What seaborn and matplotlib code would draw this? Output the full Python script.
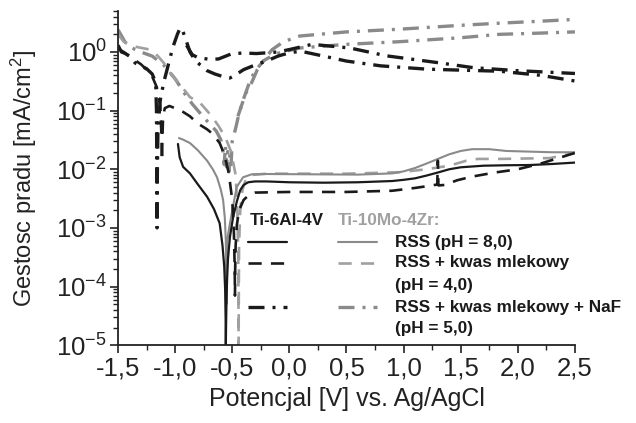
import numpy as np
import seaborn as sns
import matplotlib.pyplot as plt
from matplotlib.lines import Line2D
from matplotlib.ticker import MultipleLocator, FixedLocator, FuncFormatter, LogLocator, NullFormatter

# Ti-6Al-4V, RSS (pH 8,0) - black solid
bs_x = [-0.975, -0.96, -0.93, -0.87, -0.80, -0.72, -0.66, -0.61, -0.585, -0.57, -0.562, -0.558, -0.556,
        -0.554, -0.55, -0.545, -0.537, -0.52, -0.493, -0.46, -0.43, -0.40, -0.36, -0.3, -0.2, 0.0, 0.3, 0.6,
        0.9, 1.0, 1.1, 1.2, 1.3, 1.4, 1.5, 1.7, 1.9, 2.1, 2.3, 2.5]
bs_y = [0.027, 0.016, 0.011, 0.0085, 0.0055, 0.0034, 0.0021, 0.0012, 5e-4, 2.2e-4, 9e-5, 3e-5, 1e-5,
        2e-5, 6e-5, 1.3e-4, 3e-4, 7e-4, 1.5e-3, 2.8e-3, 4.4e-3, 5.4e-3, 6.0e-3, 6.2e-3, 6.2e-3, 6.0e-3,
        5.9e-3, 6.0e-3, 6.3e-3, 6.6e-3, 7.0e-3, 7.8e-3, 8.8e-3, 1.0e-2, 1.08e-2, 1.15e-2, 1.17e-2, 1.18e-2,
        1.23e-2, 1.3e-2]

# Ti-10Mo-4Zr, RSS (pH 8,0) - grey solid
gs_x = [-0.966, -0.93, -0.87, -0.80, -0.72, -0.67, -0.633, -0.60, -0.58, -0.565, -0.556, -0.552, -0.55,
        -0.548, -0.543, -0.535, -0.52, -0.49, -0.46, -0.405, -0.33, -0.2, 0.2, 0.6, 0.9, 1.0, 1.1, 1.2,
        1.3, 1.4, 1.5, 1.6, 1.75, 1.9, 2.1, 2.3, 2.5]
gs_y = [0.034, 0.032, 0.028, 0.021, 0.014, 0.01, 0.0073, 0.0045, 0.003, 0.0015, 6e-4, 2e-4, 5e-5,
        2e-4, 6e-4, 8e-4, 1.2e-3, 2.5e-3, 5e-3, 7.3e-3, 8.2e-3, 8.3e-3, 8.2e-3, 8.1e-3, 8.5e-3, 9.2e-3,
        1.05e-2, 1.25e-2, 1.5e-2, 1.8e-2, 2.05e-2, 2.2e-2, 2.2e-2, 2.05e-2, 2.0e-2, 1.95e-2, 1.95e-2]

# Ti-6Al-4V, RSS + kwas mlekowy (pH 4,0) - black dashed
bd_x = [-1.5, -1.45, -1.4, -1.35, -1.3, -1.25, -1.2, -1.16, -1.13, -1.12, -1.115, -1.11, -1.105, -1.09,
        -1.05, -1.0, -0.93, -0.87, -0.8, -0.72, -0.67, -0.61, -0.57, -0.53, -0.50, -0.485, -0.478, -0.476,
        -0.474, -0.47, -0.46, -0.44, -0.40, -0.35, -0.3, 0.0, 0.5, 0.9, 1.1, 1.25, 1.295, 1.30, 1.305,
        1.36, 1.47, 1.6, 1.8, 2.0, 2.2, 2.4, 2.5]
bd_y = [1.15, 1.0, 0.85, 0.72, 0.62, 0.5, 0.38, 0.25, 0.12, 0.04, 0.014, 0.04, 0.08, 0.11,
        0.12, 0.11, 0.095, 0.08, 0.06, 0.048, 0.04, 0.028, 0.018, 0.0086, 0.003, 8e-4, 2e-4, 7e-5,
        2e-4, 5e-4, 1.1e-3, 2.0e-3, 3.0e-3, 3.7e-3, 4.0e-3, 4.1e-3, 4.1e-3, 4.3e-3, 4.8e-3, 5.3e-3,
        5.5e-3, 1.4e-2, 5.3e-3, 5.4e-3, 6.5e-3, 7.5e-3, 8.8e-3, 1.0e-2, 1.25e-2, 1.65e-2, 1.9e-2]

# Ti-10Mo-4Zr, RSS + kwas mlekowy (pH 4,0) - grey dashed
gd_x = [-1.5, -1.45, -1.4, -1.32, -1.22, -1.15, -1.09, -1.03, -0.97, -0.87, -0.78, -0.69, -0.62, -0.56,
        -0.51, -0.47, -0.455, -0.447, -0.444, -0.442, -0.44, -0.43, -0.41, -0.38, -0.33, -0.2, 0.5,
        0.97, 1.2, 1.4, 1.55, 1.65, 1.84, 2.28, 2.5]
gd_y = [2.0, 1.5, 1.3, 1.2, 1.1, 0.85, 0.62, 0.4, 0.3, 0.17, 0.135, 0.085, 0.055, 0.035,
        0.02, 0.008, 0.002, 3e-4, 1e-5, 1e-4, 5e-4, 2e-3, 4.5e-3, 6.8e-3, 8e-3, 8.4e-3, 8.4e-3,
        8.9e-3, 1.0e-2, 1.15e-2, 1.4e-2, 1.5e-2, 1.5e-2, 1.55e-2, 1.9e-2]

# Ti-6Al-4V, RSS + kwas mlekowy + NaF (pH 5,0) - black dash-dot (two scans)
bdd_x = [-1.5, -1.47, -1.44, -1.4, -1.35, -1.3, -1.25, -1.2, -1.17, -1.163, -1.16, -1.158, -1.155, -1.15,
         -1.13, -1.1, -1.06, -1.02, -0.98, -0.955, -0.93, -0.9, -0.87, -0.83, -0.78, -0.72, -0.65, -0.58,
         -0.52, -0.46, -0.4, -0.3, -0.2, -0.1, 0.0, 0.1, 0.3, 0.5, 0.8, 1.2, 1.5, 1.84, 2.2, 2.5]
bdd_y = [1.3, 1.0, 0.95, 0.85, 0.65, 0.58, 0.52, 0.42, 0.3, 0.1, 0.01, 1e-3, 0.01, 0.05,
         0.15, 0.3, 0.6, 1.2, 2.0, 2.6, 2.2, 1.5, 1.0, 0.75, 0.6, 0.48, 0.42, 0.38,
         0.36, 0.42, 0.5, 0.6, 0.7, 0.85, 0.97, 1.03, 0.85, 0.7, 0.58, 0.51, 0.49, 0.47, 0.4, 0.32]
bdd2_x = [-0.9, -0.85, -0.8, -0.7, -0.62, -0.5, -0.39, -0.29, -0.1, 0.0, 0.2, 0.53, 0.85, 1.32, 1.61, 2.0, 2.5]
bdd2_y = [1.3, 0.9, 0.8, 0.75, 0.76, 0.94, 0.96, 0.94, 1.0, 1.1, 1.35, 1.17, 0.86, 0.65, 0.54, 0.48, 0.43]

# Ti-10Mo-4Zr, RSS + kwas mlekowy + NaF (pH 5,0) - grey dash-dot (two scans)
gdd_x = [-1.5, -1.47, -1.44, -1.4, -1.35, -1.3, -1.2, -1.1, -1.0, -0.92, -0.85, -0.78, -0.7, -0.64, -0.6,
         -0.58, -0.57, -0.56, -0.55, -0.54, -0.53, -0.52, -0.51, -0.5, -0.47, -0.44, -0.40, -0.35, -0.3,
         -0.22, -0.12, 0.09, 0.5, 0.97, 1.5, 1.84, 2.2, 2.5]
gdd_y = [2.4, 1.9, 1.5, 1.25, 1.1, 1.0, 0.85, 0.6, 0.35, 0.2, 0.13, 0.09, 0.06, 0.045, 0.032,
         0.02, 0.012, 0.025, 0.011, 0.02, 0.009, 0.018, 0.012, 0.03, 0.05, 0.09, 0.16, 0.3, 0.48,
         0.72, 0.93, 1.17, 1.35, 1.5, 1.75, 2.0, 2.1, 2.2]
gdd2_x = [-0.45, -0.42, -0.38, -0.33, -0.28, -0.22, -0.15, -0.05, 0.09, 0.5, 0.97, 1.5, 1.84, 2.2, 2.5]
gdd2_y = [0.08, 0.12, 0.2, 0.3, 0.5, 0.75, 1.1, 1.5, 1.87, 2.2, 2.45, 2.85, 3.1, 3.35, 3.6]

x_ticks = [-1.5, -1.0, -0.5, 0.0, 0.5, 1.0, 1.5, 2.0, 2.5]
y_ticks = [1e-5, 1e-4, 1e-3, 1e-2, 1e-1, 1e0]

black = "#1a1a1a"
grey = "#8a8a8a"
grey_light = "#a0a0a0"
dash = (0, (5, 3.5))
dashdot = (0, (4.8, 2.4, 0.9, 2.4))

sns.set_style("ticks")
plt.rcParams['font.family'] = ['Liberation Sans', 'DejaVu Sans']
plt.rcParams['mathtext.fontset'] = 'custom'
plt.rcParams['mathtext.rm'] = 'Liberation Sans'
plt.rcParams['mathtext.it'] = 'Liberation Sans:italic'

fig = plt.figure(figsize=(6.36, 4.23), dpi=100)
ax = fig.add_axes([0.1855, 0.184, 0.7185, 0.790])

series = [
    (gdd_x, gdd_y, grey, 2.4, dashdot),
    (gdd2_x, gdd2_y, grey, 2.4, dashdot),
    (gd_x, gd_y, grey_light, 1.9, dash),
    (gs_x, gs_y, grey, 1.5, "-"),
    (bdd_x, bdd_y, black, 2.4, dashdot),
    (bdd2_x, bdd2_y, black, 2.4, dashdot),
    (bd_x, bd_y, black, 1.9, dash),
    (bs_x, bs_y, black, 1.6, "-"),
]
for xs, ys, col, lw, ls in series:
    sns.lineplot(x=xs, y=ys, sort=False, estimator=None, ax=ax, color=col, lw=lw, linestyle=ls)

ax.set_yscale("log")
ax.set_xlim(-1.5, 2.5)
ax.set_ylim(1e-5, 5)
ax.xaxis.set_major_locator(FixedLocator(x_ticks))
ax.xaxis.set_minor_locator(MultipleLocator(0.25))
ax.xaxis.set_major_formatter(FuncFormatter(lambda v, p: f"{v:.1f}".replace(".", ",")))
ax.yaxis.set_major_locator(FixedLocator(y_ticks))
ax.yaxis.set_minor_locator(LogLocator(base=10, subs=np.arange(2, 10)))
ax.yaxis.set_minor_formatter(NullFormatter())
ax.yaxis.set_major_formatter(FuncFormatter(lambda v, p: r"$10^{%d}$" % round(np.log10(v))))

for side in ["top", "right"]:
    ax.spines[side].set_visible(False)
for side in ["left", "bottom"]:
    ax.spines[side].set_linewidth(1.3)
    ax.spines[side].set_color("#222222")
ax.tick_params(which="major", direction="out", length=6, width=1.2, labelsize=18.5, colors="#222222", pad=2)
ax.tick_params(which="minor", direction="out", length=3.5, width=1.0, colors="#222222")

ax.set_xlabel("Potencjal [V] vs. Ag/AgCl", fontsize=18, labelpad=5, color="#222222")
ax.set_ylabel("Gestosc pradu [mA/cm$^2$]", fontsize=17, labelpad=12, color="#222222")

# custom legend block
tr = ax.transAxes
ax.text(0.289, 0.374, "Ti-6Al-4V", transform=tr, fontsize=12.3, fontweight="bold", color=black, va="center")
ax.text(0.481, 0.374, "Ti-10Mo-4Zr:", transform=tr, fontsize=12.3, fontweight="bold", color=grey_light, va="center")
rows = [(0.308, "-", "-", 1.6, 1.5),
        (0.246, dash, dash, 1.9, 1.9),
        (0.114, dashdot, dashdot, 2.4, 2.4)]
for yy, ls_b, ls_g, lw_b, lw_g in rows:
    ax.add_line(Line2D([0.284, 0.370], [yy, yy], transform=tr, color=black, lw=lw_b, linestyle=ls_b, clip_on=False))
    ax.add_line(Line2D([0.481, 0.567], [yy, yy], transform=tr, color=grey_light if ls_g == dash else grey,
                       lw=lw_g, linestyle=ls_g, clip_on=False))
labels = [(0.308, "RSS (pH = 8,0)"), (0.246, "RSS + kwas mlekowy"), (0.180, "(pH = 4,0)"),
          (0.114, "RSS + kwas mlekowy + NaF"), (0.051, "(pH = 5,0)")]
for yy, t in labels:
    ax.text(0.606, yy, t, transform=tr, fontsize=12.3, fontweight="bold", color=black, va="center")

plt.savefig("out.png", dpi=100)
